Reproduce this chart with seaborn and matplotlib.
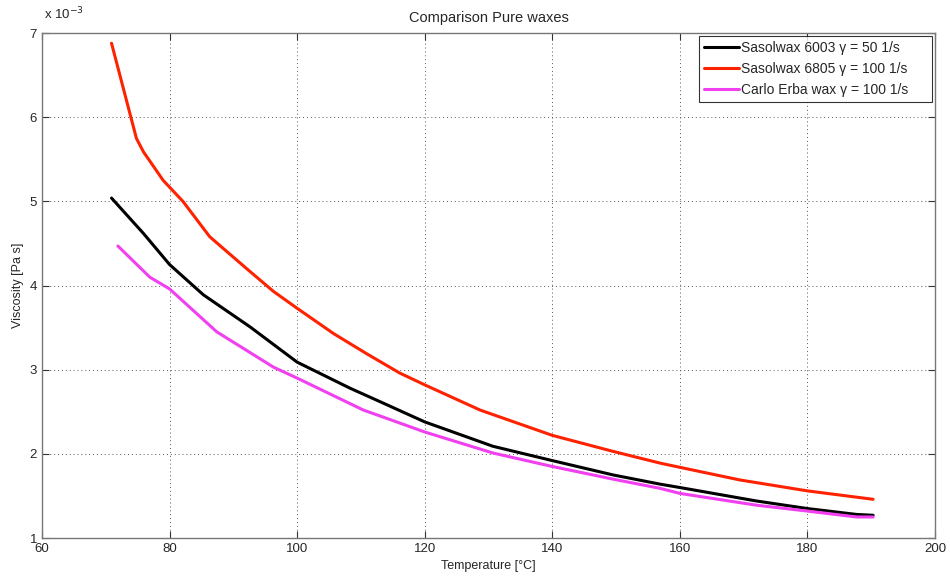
import matplotlib
matplotlib.use('Agg')
import matplotlib.pyplot as plt
import pandas as pd
import seaborn as sns

# viscosity in units of 1e-3 Pa s
temp_6003 = [70.9, 75.9, 80, 85.3, 92.6, 100, 108.3, 113, 120, 130.7, 140,
             149.5, 156.9, 160, 172, 180, 187.7, 190.3]
visc_6003 = [5.04, 4.62, 4.25, 3.89, 3.51, 3.09, 2.78, 2.62, 2.38, 2.09, 1.92,
             1.75, 1.64, 1.60, 1.44, 1.35, 1.28, 1.27]

temp_6805 = [70.9, 74.8, 75.9, 79.0, 82.1, 86.3, 92.1, 96.3, 100, 105.7, 110.9,
             116.1, 120, 128.7, 140, 149.5, 156.9, 160, 169.4, 180, 190.3]
visc_6805 = [6.88, 5.75, 5.59, 5.25, 5.00, 4.58, 4.20, 3.93, 3.73, 3.43, 3.19,
             2.96, 2.82, 2.52, 2.22, 2.03, 1.89, 1.84, 1.69, 1.56, 1.46]

temp_erba = [71.9, 76.9, 80, 87.4, 96.3, 100, 110.4, 113, 120, 130.7, 140,
             149.5, 156.9, 160, 172, 180, 187.7, 190.3]
visc_erba = [4.47, 4.10, 3.96, 3.45, 3.03, 2.90, 2.52, 2.45, 2.26, 2.01, 1.85,
             1.70, 1.59, 1.53, 1.39, 1.32, 1.25, 1.25]

labels = ['Sasolwax 6003 \u03b3 = 50 1/s',
          'Sasolwax 6805 \u03b3 = 100 1/s',
          'Carlo Erba wax \u03b3 = 100 1/s']
colors = ['#000000', '#ff2200', '#f040f0']

df = pd.concat([
    pd.DataFrame({'T': temp_6003, 'v': visc_6003, 'wax': labels[0]}),
    pd.DataFrame({'T': temp_6805, 'v': visc_6805, 'wax': labels[1]}),
    pd.DataFrame({'T': temp_erba, 'v': visc_erba, 'wax': labels[2]}),
])

sns.set_style('ticks')
plt.rcParams['font.family'] = ['Liberation Sans', 'DejaVu Sans']

fig = plt.figure(figsize=(9.5, 5.81), dpi=100)
ax = fig.add_axes([0.0442, 0.074, 0.9400, 0.869])

sns.lineplot(data=df, x='T', y='v', hue='wax', palette=colors, linewidth=2.2,
             sort=False, estimator=None, ax=ax)

ax.set_xlim(60, 200)
ax.set_ylim(1, 7)
ax.set_xticks(range(60, 201, 20))
ax.set_yticks(range(1, 8))
ax.grid(True, color='#555555', linestyle=(0, (1, 3)), linewidth=0.7)
ax.tick_params(direction='in', top=True, right=True, labelsize=9.5, length=5,
               color='#333333')
for s in ax.spines.values():
    s.set_color('#777777')
    s.set_linewidth(1.0)

ax.set_xlabel('Temperature [\u00b0C]', fontsize=9, labelpad=4)
ax.set_ylabel('Viscosity [Pa s]', fontsize=9, labelpad=4)
ax.set_title('Comparison Pure waxes', fontsize=10.5, pad=8)
ax.text(0.002, 1.022, 'x 10$^{-3}$', transform=ax.transAxes, fontsize=9.5,
        ha='left', va='bottom')

handles, texts = ax.get_legend_handles_labels()
leg = ax.legend(handles, [t + '     ' for t in texts], loc='upper right',
                fontsize=10, frameon=True, fancybox=False,
                handlelength=2.5, handletextpad=0.15, borderpad=0.35,
                labelspacing=0.5, borderaxespad=0.2)
leg.get_frame().set_edgecolor('black')
leg.get_frame().set_linewidth(0.8)

fig.savefig('out.png', dpi=100)
